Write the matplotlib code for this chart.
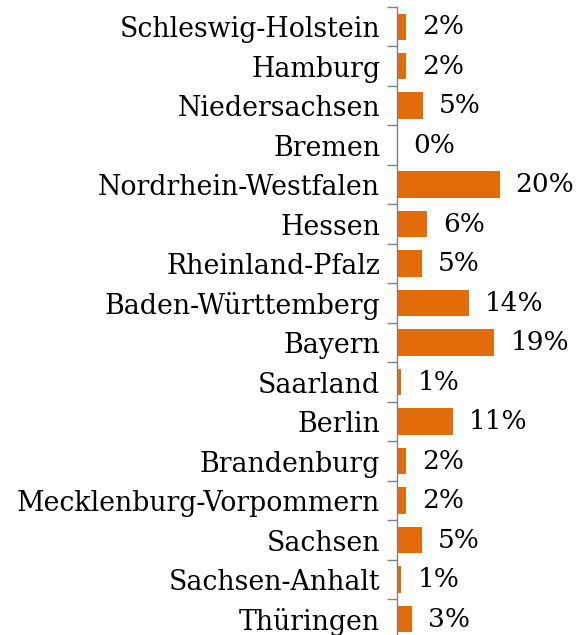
import matplotlib.pyplot as plt
import numpy as np

plt.rcParams["font.family"] = "DejaVu Serif"

states = ["Schleswig-Holstein", "Hamburg", "Niedersachsen", "Bremen",
          "Nordrhein-Westfalen", "Hessen", "Rheinland-Pfalz",
          "Baden-Württemberg", "Bayern", "Saarland", "Berlin",
          "Brandenburg", "Mecklenburg-Vorpommern", "Sachsen",
          "Sachsen-Anhalt", "Thüringen"]
shares = [1.8, 1.8, 5.0, 0.0, 20.0, 5.9, 4.9, 14.0, 19.0, 0.9, 10.9,
          1.8, 1.8, 4.9, 0.9, 2.9]

fig = plt.figure(figsize=(5.76, 6.35), dpi=100)
ax = fig.add_axes([0.689, -0.006, 0.311, 0.995])

y = np.arange(len(states))
ax.barh(y, shares, height=0.67, color="#E36C0A")
for yi, v in zip(y, shares):
    ax.annotate(f"{round(v)}%", (v, yi), xytext=(11.5, 0), textcoords="offset points",
                va="center", ha="left", fontsize=19)

ax.set_xlim(0, 34.9)
ax.set_ylim(len(states) - 0.5, -0.5)
ax.set_yticks(y)
ax.set_yticklabels(states, fontsize=19.3)
ax.set_yticks(np.arange(len(states) + 1) - 0.5, minor=True)
ax.tick_params(axis="y", which="major", length=0, pad=12)
ax.tick_params(axis="y", which="minor", length=7, width=1, color="#808080")
ax.set_xticks([])
for s in ["top", "right", "bottom"]:
    ax.spines[s].set_visible(False)
ax.spines["left"].set_color("#808080")
ax.spines["left"].set_linewidth(1)

fig.savefig("out.png", dpi=100)
